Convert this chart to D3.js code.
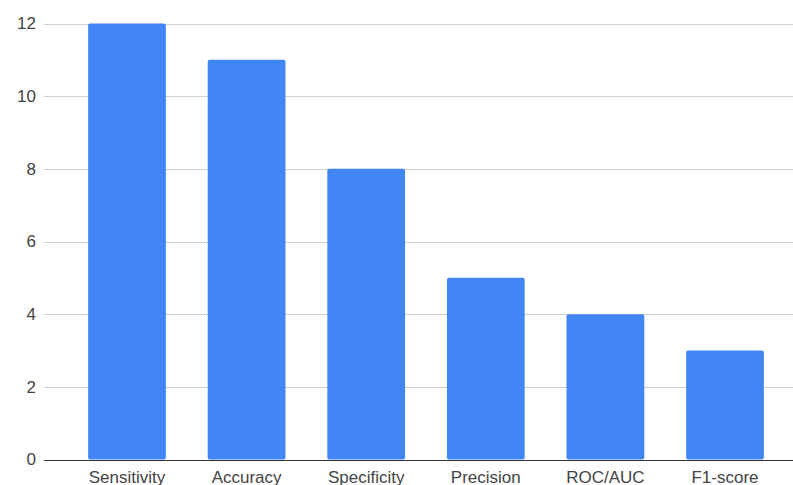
<!DOCTYPE html>
<html>
<head>
<meta charset="utf-8">
<script src="https://cdn.jsdelivr.net/npm/d3@7"></script>
<style>
  html, body { margin: 0; padding: 0; background: #fff; overflow: hidden; }
  svg { display: block; }
</style>
</head>
<body>
<svg id="chart" width="793" height="485"></svg>
<script>
// Metric categories and how often each one is reported
const categories = ["Sensitivity", "Accuracy", "Specificity", "Precision", "ROC/AUC", "F1-score"];
const counts = [12, 11, 8, 5, 4, 3];
const yTicks = [0, 2, 4, 6, 8, 10, 12];

const svg = d3.select("#chart");
const gridLeft = 44, gridRight = 793;
const font = "Liberation Sans, Arial, sans-serif";

const x = d3.scaleBand()
  .domain(categories)
  .range([67.2, 784.8])
  .paddingInner(0.35)
  .paddingOuter(0.175);

const y = d3.scaleLinear()
  .domain([0, 12])
  .range([459.5, 23.5]);

// Horizontal gridlines
svg.append("g")
  .selectAll("line")
  .data(yTicks.filter(d => d !== 0))
  .join("line")
  .attr("x1", gridLeft)
  .attr("x2", gridRight)
  .attr("y1", d => Math.round(y(d)) + 0.5)
  .attr("y2", d => Math.round(y(d)) + 0.5)
  .attr("stroke", "#d0d0d0")
  .attr("stroke-width", 1);

// Y axis labels
const yAxis = d3.axisLeft(y).tickValues(yTicks).tickSize(0).tickPadding(0);
const yg = svg.append("g")
  .attr("transform", `translate(36,0)`)
  .call(yAxis);
yg.select(".domain").remove();
yg.selectAll("text")
  .attr("font-family", font)
  .attr("font-size", 17)
  .attr("fill", "#444");

// Bars
svg.append("g")
  .selectAll("rect")
  .data(categories.map((c, i) => ({ c, v: counts[i] })))
  .join("rect")
  .attr("x", d => x(d.c))
  .attr("y", d => y(d.v))
  .attr("width", x.bandwidth())
  .attr("height", d => y(0) - y(d.v))
  .attr("rx", 2)
  .attr("fill", "#4285f4");

// Baseline
svg.append("line")
  .attr("x1", gridLeft)
  .attr("x2", gridRight)
  .attr("y1", Math.round(y(0)) + 0.5)
  .attr("y2", Math.round(y(0)) + 0.5)
  .attr("stroke", "#333")
  .attr("stroke-width", 1);

// X axis labels
const xAxis = d3.axisBottom(x).tickSize(0).tickPadding(0);
const xg = svg.append("g")
  .attr("transform", `translate(0,483)`)
  .call(xAxis);
xg.select(".domain").remove();
xg.selectAll("text")
  .attr("dy", 0)
  .attr("y", 0)
  .attr("font-family", font)
  .attr("font-size", 17)
  .attr("fill", "#444");
</script>
</body>
</html>
